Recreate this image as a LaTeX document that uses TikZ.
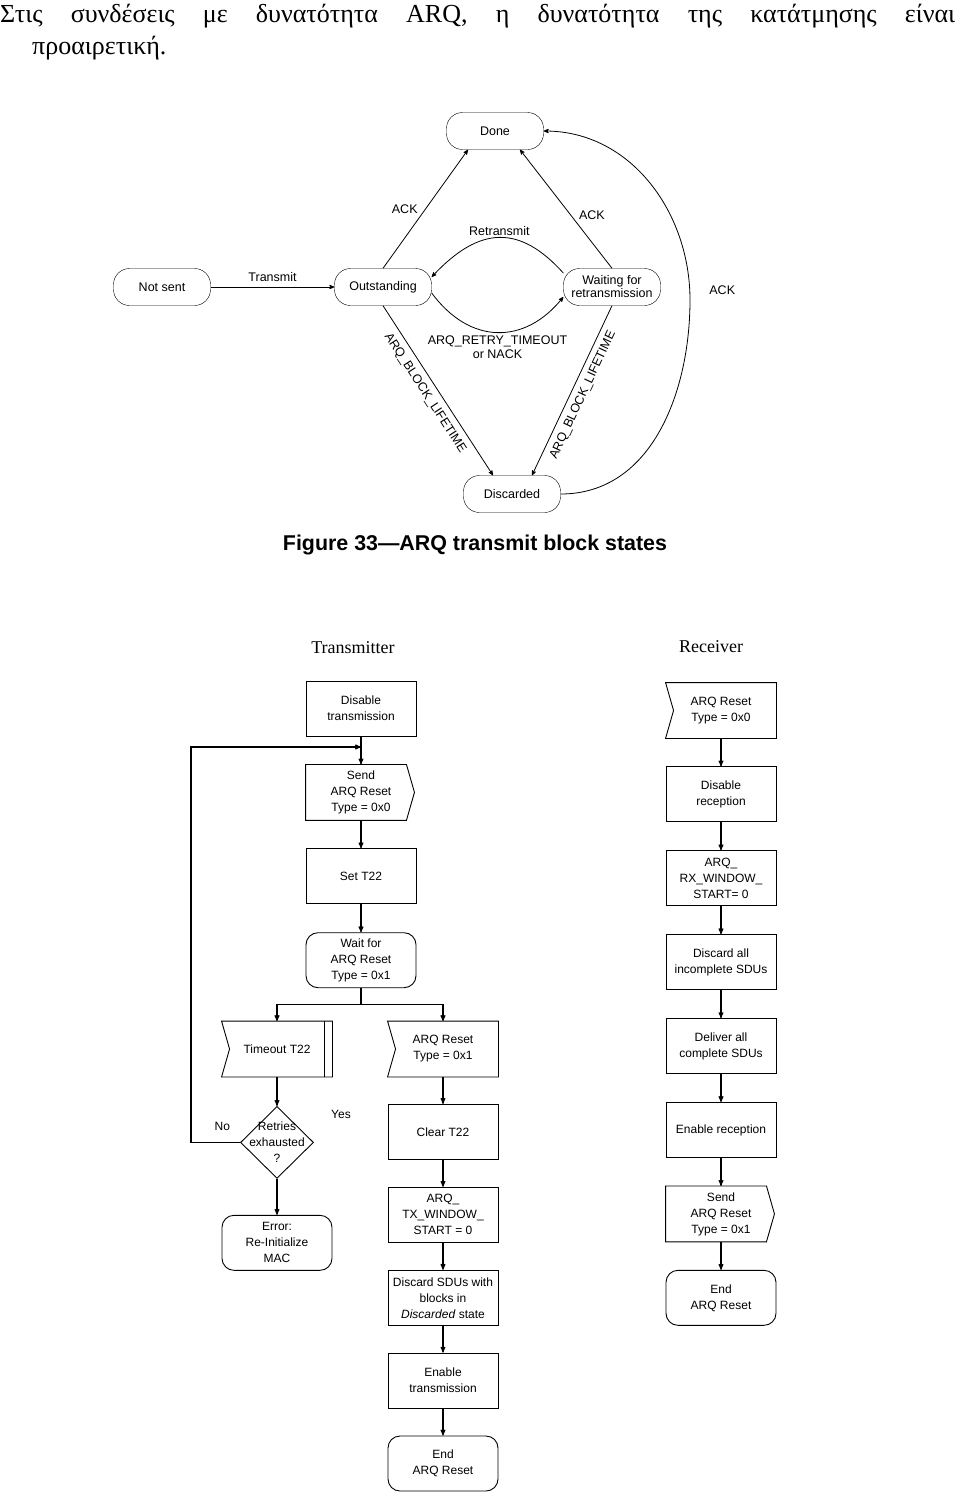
\documentclass[tikz,border=0pt]{standalone}
\usepackage{fontspec}
\setmainfont{Liberation Serif}
\newfontfamily\arialfont{Liberation Sans}
\usepackage{tikz}
\usetikzlibrary{positioning}
\usetikzlibrary{arrows}
\usetikzlibrary{shapes.geometric}

\begin{document}
\begin{tikzpicture}[x=1pt,y=-1pt,>=stealth',node distance=28pt,
	state node/.style={draw,rounded corners=16pt,minimum width=97pt,minimum height=37pt,inner sep=1pt,align=center,font=\arialfont\fontsize{12.5}{13}\selectfont},
	state lbl/.style={inner sep=1pt,align=center,font=\arialfont\fontsize{12.5}{14}\selectfont},
	flow font/.style={font=\arialfont\fontsize{12}{16}\selectfont},
	proc box/.style={draw,line width=0.9pt,minimum width=110pt,minimum height=55pt,inner sep=1pt,align=center,flow font},
	end box/.style={proc box,rounded corners=12pt},
	send box/.style={proc box,draw=none,append after command={\pgfextra{\draw[line width=0.9pt]
		(\tikzlastnode.north west) -- ([xshift=-10pt]\tikzlastnode.north east) -- ([xshift=-2pt]\tikzlastnode.east)
		-- ([xshift=-10pt]\tikzlastnode.south east) -- (\tikzlastnode.south west) -- cycle;}}},
	recv box/.style={proc box,draw=none,append after command={\pgfextra{\draw[line width=0.9pt]
		(\tikzlastnode.north west) -- (\tikzlastnode.north east) -- (\tikzlastnode.south east)
		-- (\tikzlastnode.south west) -- ([xshift=8pt]\tikzlastnode.west) -- cycle;}}},
	decision/.style={draw,line width=0.9pt,diamond,minimum width=73pt,minimum height=72pt,inner sep=0pt},
	flow/.style={->,line width=1.1pt}]

	\useasboundingbox (0,0) rectangle (960,1504);

	% text above the figure
	\node[anchor=base west,inner sep=0pt,font=\fontsize{26}{30}\selectfont] (line1) at (0,23)
		{\makebox[955pt][s]{Στις συνδέσεις με δυνατότητα ARQ, η δυνατότητα της κατάτμησης είναι}};
	\node[anchor=base west,inner sep=0pt,font=\fontsize{26}{30}\selectfont] (line2) at (32,55) {προαιρετική.};

	% Figure 33: states
	\node[state node] (notsent) at (162,287) {Not sent};
	\node[state node] (outst) at (383,287) {Outstanding};
	\node[state node] (done) at (495,131) {Done};
	\node[state node] (waitre) at (612,287) {Waiting for\\retransmission};
	\node[state node] (disc) at (512,494) {Discarded};
	\coordinate (ackbend) at (690,300);

	\path[->,line width=0.8pt,every node/.style={state lbl}]
		(notsent)		edge node[above=4pt] {Transmit} (outst)
		(outst.north)	edge node[left=6.5pt] {ACK} ([xshift=-27pt]done.south)
		(waitre.north)	edge node[pos=0.45,right=7pt] {ACK} ([xshift=25pt]done.south)
		(outst.south)	edge ([xshift=-19pt]disc.north)
		(waitre.south)	edge ([xshift=20pt]disc.north);
	\node[state lbl,rotate=-57] (lifeleft) at (425,393) {ARQ\_BLOCK\_LIFETIME};
	\node[state lbl,rotate=65] (liferight) at (583,395) {ARQ\_BLOCK\_LIFETIME};

	\draw[->,line width=0.8pt] ([yshift=14pt]waitre.west) .. controls (520,225) and (480,225) .. ([yshift=10pt]outst.east)
		node[pos=0.5,above=0pt,state lbl] {Retransmit};
	\draw[->,line width=0.8pt] ([yshift=-6pt]outst.east) .. controls (470,345) and (525,345) .. ([yshift=-10pt]waitre.west)
		node[pos=0.5,below=2pt,state lbl] {ARQ\_RETRY\_TIMEOUT\\or NACK};
	\draw[->,line width=0.8pt] (disc.east) to[out=0,in=-90] (ackbend)
		node[right=18pt,yshift=10pt,state lbl] {ACK} to[out=90,in=0] (done.east);

	\node[font=\arialfont\bfseries\fontsize{21.4}{22}\selectfont] (caption) at (475,545) {Figure 33—ARQ transmit block states};

	% flow charts
	\node[font=\fontsize{18}{18}\selectfont] (txhead) at (353,648) {Transmitter};
	\node[font=\fontsize{18}{18}\selectfont] (rxhead) at (711,647) {Receiver};

	% transmitter
	\node[proc box] (distx) at (361,708.5) {Disable\\transmission};
	\node[send box] (send0) [below=of distx] {Send\\ARQ Reset\\Type = 0x0};
	\node[proc box] (sett) [below=of send0] {Set T22};
	\node[end box] (waitrst) [below=of sett] {Wait for\\ARQ Reset\\Type = 0x1};
	\coordinate (split) at ([yshift=-16pt]waitrst.south);

	\node[recv box] (tmo) at (277,1049) {Timeout T22};
	\draw[line width=0.9pt] ([xshift=-8pt]tmo.north east) -- ([xshift=-8pt]tmo.south east);
	\node[decision] (retry) [below=29pt of tmo]
		{}; \node[flow font,align=center] (retrytxt) at (retry) {Retries\\exhausted\\?};
	\node[end box] (err) [below=36pt of retry] {Error:\\Re-Initialize\\MAC};
	\coordinate (loop) at (191,747);
	\node[flow font,inner sep=1pt] (yes) at (341,1114) {Yes};

	\node[recv box] (rst1) at (443,1049) {ARQ Reset\\Type = 0x1};
	\node[proc box] (clr) [below=27pt of rst1] {Clear T22};
	\node[proc box] (txw) [below=27pt of clr] {ARQ\_\\TX\_WINDOW\_\\START = 0};
	\node[proc box] (dsc) [below=27pt of txw] {Discard SDUs with\\blocks in\\\textit{Discarded} state};
	\node[proc box] (entx) [below=27pt of dsc] {Enable\\transmission};
	\node[end box] (endtx) [below=27pt of entx] {End\\ARQ Reset};

	% receiver
	\node[recv box] (rst0) at (721,710.5) {ARQ Reset\\Type = 0x0};
	\node[proc box] (disrx) [below=of rst0] {Disable\\reception};
	\node[proc box] (rxw) [below=of disrx] {ARQ\_\\RX\_WINDOW\_\\START= 0};
	\node[proc box] (dscrx) [below=of rxw] {Discard all\\incomplete SDUs};
	\node[proc box] (dlv) [below=of dscrx] {Deliver all\\complete SDUs};
	\node[proc box] (enrx) [below=of dlv] {Enable reception};
	\node[send box] (send1) [below=of enrx] {Send\\ARQ Reset\\Type = 0x1};
	\node[end box] (endrx) [below=of send1] {End\\ARQ Reset};

	\path[flow]
		(distx)	edge (send0)
		(send0)	edge (sett)
		(sett)	edge (waitrst)
		(tmo)	edge (retry)
		(retry)	edge (err)
		(rst1)	edge (clr)
		(clr)	edge (txw)
		(txw)	edge (dsc)
		(dsc)	edge (entx)
		(entx)	edge (endtx)
		(rst0)	edge (disrx)
		(disrx)	edge (rxw)
		(rxw)	edge (dscrx)
		(dscrx)	edge (dlv)
		(dlv)	edge (enrx)
		(enrx)	edge (send1)
		(send1)	edge (endrx);

	\draw[line width=1.1pt] (waitrst) -- (split);
	\draw[flow] (split) -| (tmo.north);
	\draw[flow] (split) -| (rst1.north);
	\draw[flow] (retry.west) -| (loop) node[pos=0.18,above=10pt,flow font,inner sep=1pt] {No}
		-- (loop -| send0.north);
\end{tikzpicture}
\end{document}
